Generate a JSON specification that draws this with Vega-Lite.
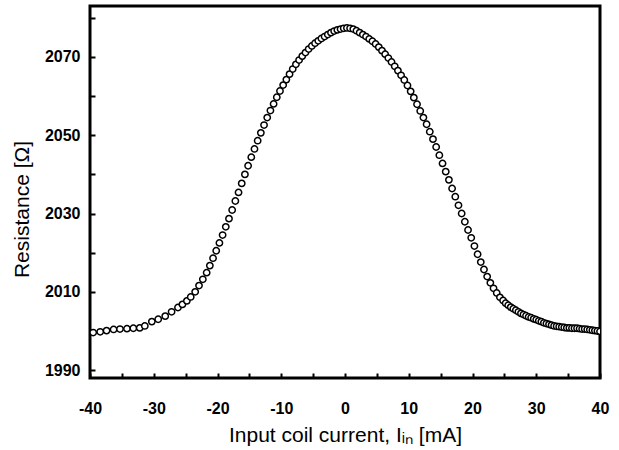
{
  "$schema": "https://vega.github.io/schema/vega-lite/v6.json",
  "width": 510,
  "height": 372,
  "autosize": "none",
  "padding": {"left": 90, "top": 6, "right": 19, "bottom": 72},
  "background": "white",
  "config": {
    "view": {"stroke": "black", "strokeWidth": 3},
    "font": "Liberation Sans"
  },
  "data": {
    "values": [
      {"I": -39.5, "R": 1999.6}, {"I": -38.4, "R": 1999.8}, {"I": -37.4, "R": 2000.1}, {"I": -36.3, "R": 2000.4},
      {"I": -35.3, "R": 2000.5}, {"I": -34.2, "R": 2000.6}, {"I": -33.2, "R": 2000.7}, {"I": -32.2, "R": 2000.8},
      {"I": -31.4, "R": 2001.3}, {"I": -30.3, "R": 2002.4}, {"I": -29.3, "R": 2003.0}, {"I": -28.2, "R": 2003.8},
      {"I": -27.2, "R": 2004.9}, {"I": -26.2, "R": 2006.0}, {"I": -25.5, "R": 2006.8}, {"I": -24.8, "R": 2007.7},
      {"I": -24.2, "R": 2008.7}, {"I": -23.5, "R": 2010.0}, {"I": -22.9, "R": 2011.6}, {"I": -22.3, "R": 2013.2},
      {"I": -21.7, "R": 2014.9}, {"I": -21.2, "R": 2016.7}, {"I": -20.7, "R": 2018.6}, {"I": -20.2, "R": 2020.5},
      {"I": -19.7, "R": 2022.5}, {"I": -19.2, "R": 2024.5}, {"I": -18.7, "R": 2026.6}, {"I": -18.2, "R": 2028.7},
      {"I": -17.7, "R": 2030.9}, {"I": -17.2, "R": 2033.2}, {"I": -16.7, "R": 2035.4}, {"I": -16.2, "R": 2037.7},
      {"I": -15.7, "R": 2040.0}, {"I": -15.2, "R": 2042.2}, {"I": -14.7, "R": 2044.4}, {"I": -14.2, "R": 2046.5},
      {"I": -13.7, "R": 2048.6}, {"I": -13.2, "R": 2050.6}, {"I": -12.7, "R": 2052.6}, {"I": -12.2, "R": 2054.5},
      {"I": -11.7, "R": 2056.3}, {"I": -11.2, "R": 2058.0}, {"I": -10.7, "R": 2059.7}, {"I": -10.2, "R": 2061.3},
      {"I": -9.7, "R": 2062.8}, {"I": -9.2, "R": 2064.2}, {"I": -8.7, "R": 2065.6}, {"I": -8.2, "R": 2066.9},
      {"I": -7.7, "R": 2068.1}, {"I": -7.2, "R": 2069.2}, {"I": -6.7, "R": 2070.2}, {"I": -6.2, "R": 2071.1},
      {"I": -5.7, "R": 2072.0}, {"I": -5.2, "R": 2072.8}, {"I": -4.7, "R": 2073.5}, {"I": -4.2, "R": 2074.1},
      {"I": -3.7, "R": 2074.7}, {"I": -3.2, "R": 2075.2}, {"I": -2.7, "R": 2075.7}, {"I": -2.2, "R": 2076.2},
      {"I": -1.7, "R": 2076.6}, {"I": -1.2, "R": 2076.9}, {"I": -0.7, "R": 2077.1}, {"I": -0.2, "R": 2077.3},
      {"I": 0.3, "R": 2077.4}, {"I": 0.8, "R": 2077.3}, {"I": 1.3, "R": 2077.1}, {"I": 1.8, "R": 2076.7},
      {"I": 2.3, "R": 2076.2}, {"I": 2.8, "R": 2075.7}, {"I": 3.3, "R": 2075.2}, {"I": 3.8, "R": 2074.6},
      {"I": 4.3, "R": 2074.0}, {"I": 4.8, "R": 2073.3}, {"I": 5.3, "R": 2072.5}, {"I": 5.8, "R": 2071.6},
      {"I": 6.3, "R": 2070.7}, {"I": 6.8, "R": 2069.7}, {"I": 7.3, "R": 2068.7}, {"I": 7.8, "R": 2067.6},
      {"I": 8.3, "R": 2066.5}, {"I": 8.8, "R": 2065.3}, {"I": 9.3, "R": 2064.1}, {"I": 9.8, "R": 2062.7},
      {"I": 10.3, "R": 2061.2}, {"I": 10.8, "R": 2059.6}, {"I": 11.3, "R": 2057.9}, {"I": 11.8, "R": 2056.2},
      {"I": 12.3, "R": 2054.5}, {"I": 12.8, "R": 2052.8}, {"I": 13.3, "R": 2050.9}, {"I": 13.8, "R": 2049.0},
      {"I": 14.3, "R": 2047.0}, {"I": 14.8, "R": 2044.9}, {"I": 15.3, "R": 2042.8}, {"I": 15.8, "R": 2040.7},
      {"I": 16.3, "R": 2038.6}, {"I": 16.8, "R": 2036.4}, {"I": 17.3, "R": 2034.3}, {"I": 17.8, "R": 2032.1},
      {"I": 18.3, "R": 2030.0}, {"I": 18.8, "R": 2027.9}, {"I": 19.3, "R": 2025.8}, {"I": 19.8, "R": 2023.8},
      {"I": 20.3, "R": 2021.7}, {"I": 20.8, "R": 2019.6}, {"I": 21.3, "R": 2017.6}, {"I": 21.8, "R": 2015.7},
      {"I": 22.3, "R": 2013.9}, {"I": 22.8, "R": 2012.3}, {"I": 23.3, "R": 2010.9}, {"I": 23.8, "R": 2009.7},
      {"I": 24.3, "R": 2008.6}, {"I": 24.8, "R": 2007.8}, {"I": 25.2, "R": 2007.1}, {"I": 25.6, "R": 2006.6},
      {"I": 26.0, "R": 2006.1}, {"I": 26.4, "R": 2005.7}, {"I": 26.8, "R": 2005.3}, {"I": 27.2, "R": 2004.9},
      {"I": 27.6, "R": 2004.5}, {"I": 28.0, "R": 2004.2}, {"I": 28.4, "R": 2003.9}, {"I": 28.8, "R": 2003.6},
      {"I": 29.2, "R": 2003.4}, {"I": 29.6, "R": 2003.1}, {"I": 30.0, "R": 2002.9}, {"I": 30.4, "R": 2002.6},
      {"I": 30.8, "R": 2002.4}, {"I": 31.2, "R": 2002.1}, {"I": 31.6, "R": 2001.9}, {"I": 32.0, "R": 2001.7},
      {"I": 32.4, "R": 2001.5}, {"I": 32.8, "R": 2001.3}, {"I": 33.2, "R": 2001.2}, {"I": 33.6, "R": 2001.1},
      {"I": 34.0, "R": 2001.0}, {"I": 34.4, "R": 2000.9}, {"I": 34.8, "R": 2000.8}, {"I": 35.2, "R": 2000.8},
      {"I": 35.6, "R": 2000.7}, {"I": 36.0, "R": 2000.7}, {"I": 36.4, "R": 2000.7}, {"I": 36.8, "R": 2000.6},
      {"I": 37.2, "R": 2000.5}, {"I": 37.6, "R": 2000.5}, {"I": 38.0, "R": 2000.4}, {"I": 38.4, "R": 2000.3},
      {"I": 38.8, "R": 2000.2}, {"I": 39.2, "R": 2000.1}, {"I": 39.6, "R": 2000.0}, {"I": 40.0, "R": 1999.9}
    ]
  },
  "mark": {"type": "point", "shape": "circle", "filled": false, "fill": "white", "fillOpacity": 1, "stroke": "black", "strokeWidth": 1.5, "size": 40, "opacity": 1, "clip": true},
  "encoding": {
    "x": {
      "field": "I", "type": "quantitative",
      "scale": {"domain": [-40, 40], "nice": false, "zero": false},
      "axis": {
        "title": "Input coil current, Iᵢₙ [mA]",
        "values": [-40, -35, -30, -25, -20, -15, -10, -5, 0, 5, 10, 15, 20, 25, 30, 35, 40],
        "labelExpr": "datum.value % 10 == 0 ? '' + datum.value : ''",
        "grid": false, "domain": false,
        "ticks": true, "tickSize": -5, "tickWidth": 2, "tickColor": "black",
        "labelFont": "Liberation Sans", "labelFontSize": 16, "labelFontWeight": "bold", "labelColor": "black",
        "labelPadding": 27, "labelFlush": false, "labelOverlap": false,
        "titleFont": "Liberation Sans", "titleFontSize": 21, "titleFontWeight": "normal", "titleColor": "black",
        "titlePadding": 8
      }
    },
    "y": {
      "field": "R", "type": "quantitative",
      "scale": {"domain": [1988, 2083], "nice": false, "zero": false},
      "axis": {
        "title": "Resistance [Ω]",
        "values": [1990, 2000, 2010, 2020, 2030, 2040, 2050, 2060, 2070, 2080],
        "labelExpr": "(datum.value - 1990) % 20 == 0 ? '' + datum.value : ''",
        "grid": false, "domain": false,
        "ticks": true, "tickSize": -5, "tickWidth": 2, "tickColor": "black",
        "labelFont": "Liberation Sans", "labelFontSize": 16, "labelFontWeight": "bold", "labelColor": "black",
        "labelPadding": 15, "labelFlush": false, "labelOverlap": false,
        "titleFont": "Liberation Sans", "titleFontSize": 21, "titleFontWeight": "normal", "titleColor": "black",
        "titlePadding": 12, "titleY": 203
      }
    }
  }
}
